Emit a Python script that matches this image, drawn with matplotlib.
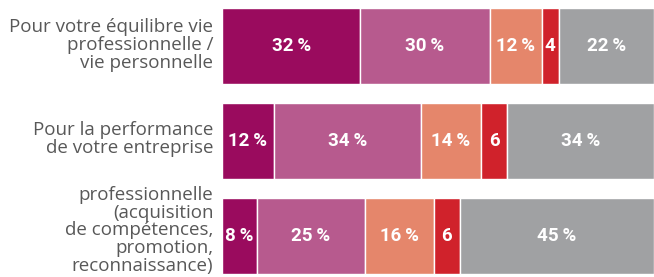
import matplotlib.pyplot as plt

# categories (top to bottom)
labels = ['Pour votre équilibre vie\nprofessionnelle /\nvie personnelle',
          'Pour la performance\nde votre entreprise',
          'professionnelle\n(acquisition\nde compétences,\npromotion,\nreconnaissance)']

# shares per answer, one list per segment
seg1 = [32, 12, 8]
seg2 = [30, 34, 25]
seg3 = [12, 14, 16]
seg4 = [4, 6, 6]
seg5 = [22, 34, 45]

segments = [seg1, seg2, seg3, seg4, seg5]
colors = ['#9a0b5e', '#b75a8e', '#e5866b', '#d0222b', '#a0a1a3']
with_pct = [True, True, True, False, True]

plt.rcParams['font.family'] = ['Roboto', 'DejaVu Sans']

fig = plt.figure(figsize=(6.54, 2.77), dpi=100)
ax = fig.add_axes([222 / 654, 0, 1 - 222 / 654, 1])

ys = list(range(len(labels)))
left = [0] * len(labels)
for vals, col, pct in zip(segments, colors, with_pct):
    ax.barh(ys, vals, left=left, height=0.8, color=col,
            edgecolor='white', linewidth=1)
    for y, v, l in zip(ys, vals, left):
        txt = f'{v}\u2009%' if pct else f'{v}'
        ax.text(l + v / 2, y, txt, ha='center', va='center',
                color='white', fontsize=13.5, fontweight='bold')
    left = [a + b for a, b in zip(left, vals)]

offsets = [-0.01, -0.02, -0.06]
for y, lab, dy in zip(ys, labels, offsets):
    ax.text(-2, y + dy, lab, ha='right', va='center', color='#585858',
            fontsize=13.5, family=['Open Sans', 'DejaVu Sans'],
            linespacing=0.98, clip_on=False)

ax.set_xlim(0, 100)
ax.set_ylim(2.432, -0.484)
ax.axis('off')

fig.savefig('out.png', dpi=100)
